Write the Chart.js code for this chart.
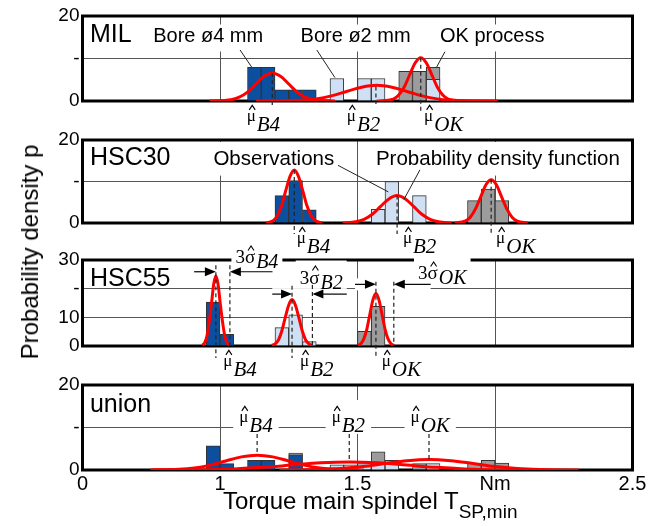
<!DOCTYPE html>
<html>
<head>
<meta charset="utf-8">
<title>Torque main spindel - probability density</title>
<script src="https://cdn.jsdelivr.net/npm/chart.js@4.4.1/dist/chart.umd.min.js"></script>
<style>
    body { margin: 0; width: 662px; height: 526px; background: #fff; position: relative; overflow: hidden;
           font-family: "Liberation Sans", Arial, sans-serif; color: #000; }
    canvas { position: absolute; left: 0; }
    #yTitle { position: absolute; left: 30px; top: 252px; font-size: 24px; white-space: nowrap;
              transform: translate(-50%, -50%) rotate(-90deg); }
    #xTitle { position: absolute; left: 223px; top: 489px; font-size: 24px; line-height: 24px; white-space: nowrap; }
    #xTitle span { font-size: 19px; position: relative; top: 9px; }
</style>
</head>
<body>
<canvas id="milChart"></canvas>
<canvas id="hsc30Chart"></canvas>
<canvas id="hsc55Chart"></canvas>
<canvas id="unionChart"></canvas>
<div id="yTitle">Probability density p</div>
<div id="xTitle">Torque main spindel T<span>SP,min</span></div>
<script>
// x axis is broken: the left edge (0.5 Nm) carries the label 0
const xTickValues = [0.5, 1, 1.5, 2, 2.5];
const xTickLabels = ['0', '1', '1.5', 'Nm', '2.5'];

const yTicks20 = [0, 10, 20];
const yLabels20 = ['0', '-', '20'];
const yTicks30 = [0, 10, 20, 30];
const yLabels30 = ['0', '10', '-', '30'];

// histogram bin centres (Nm) and densities
const milB4Bins = [1.125, 1.175, 1.225, 1.275, 1.325];
const milB4Dens = [7.9, 7.9, 2.6, 2.6, 2.6];
const milB2Bins = [1.425, 1.525, 1.575, 1.775];
const milB2Dens = [5.3, 5.3, 5.3, 5.1];
const milOkBins = [1.675, 1.725, 1.775];
const milOkDens = [7.0, 7.0, 7.9];

const hsc30B4Bins = [1.225, 1.275, 1.325];
const hsc30B4Dens = [6.6, 10.2, 3.2];
const hsc30B2Bins = [1.575, 1.625, 1.725];
const hsc30B2Dens = [3.3, 10.0, 6.6];
const hsc30OkBins = [1.925, 1.975, 2.025];
const hsc30OkDens = [5.4, 8.2, 5.4];

const hsc55B4Bins = [0.975, 1.025];
const hsc55B4Dens = [15.3, 4.1];
const hsc55B2Bins = [1.225, 1.275, 1.325];
const hsc55B2Dens = [6.4, 10.9, 1.5];
const hsc55OkBins = [1.525, 1.575];
const hsc55OkDens = [5.1, 13.8];

const unionB4Bins = [0.975, 1.025, 1.125, 1.175, 1.275];
const unionB4Dens = [5.7, 1.5, 2.3, 2.3, 3.6];
const unionB2Bins = [1.275, 1.425, 1.475, 1.525, 1.575, 1.625, 1.775];
const unionB2Dens = [4.0, 1.2, 1.2, 1.5, 1.5, 2.3, 1.5];
const unionOkBins = [1.575, 1.725, 1.925, 1.975, 2.025];
const unionOkDens = [4.3, 1.5, 1.6, 2.3, 1.6];

// probability density functions [Nm, p]
const milB4Pdf = [[0.962, 0], [1.04, 0.3], [1.07, 0.9], [1.10, 2.1], [1.13, 4.0], [1.16, 5.8], [1.19, 6.6],
                  [1.22, 5.8], [1.25, 4.0], [1.28, 2.1], [1.31, 0.9], [1.34, 0.3], [1.418, 0]];
const milB2Pdf = [[1.13, 0], [1.295, 0.16], [1.35, 0.5], [1.405, 1.2], [1.46, 2.25], [1.515, 3.25], [1.57, 3.7],
                  [1.625, 3.25], [1.68, 2.25], [1.735, 1.2], [1.79, 0.5], [1.845, 0.16], [2.01, 0]];
const milOkPdf = [[1.57, 0], [1.63, 0.45], [1.65, 1.4], [1.67, 3.3], [1.69, 6.2], [1.71, 9.0], [1.73, 10.2],
                  [1.75, 9.0], [1.77, 6.2], [1.79, 3.3], [1.81, 1.4], [1.83, 0.45], [1.89, 0]];

const hsc30B4Pdf = [[1.168, 0], [1.193, 0.56], [1.208, 1.7], [1.224, 4.2], [1.239, 7.8], [1.255, 11.3], [1.27, 12.8],
                    [1.285, 11.3], [1.301, 7.8], [1.316, 4.2], [1.332, 1.7], [1.347, 0.56], [1.372, 0]];
const hsc30B2Pdf = [[1.446, 0], [1.494, 0.3], [1.524, 0.9], [1.554, 2.1], [1.584, 4.0], [1.614, 5.8], [1.644, 6.6],
                    [1.674, 5.8], [1.704, 4.0], [1.734, 2.1], [1.764, 0.9], [1.794, 0.3], [1.842, 0]];
const hsc30OkPdf = [[1.853, 0], [1.891, 0.46], [1.91, 1.4], [1.929, 3.4], [1.948, 6.3], [1.967, 9.2], [1.986, 10.4],
                    [2.005, 9.2], [2.024, 6.3], [2.043, 3.4], [2.062, 1.4], [2.081, 0.46], [2.119, 0]];

const hsc55B4Pdf = [[0.936, 0.3], [0.944, 1.1], [0.952, 3.3], [0.96, 7.9], [0.969, 14.8], [0.977, 21.5], [0.985, 24.4],
                    [0.993, 21.5], [1.001, 14.8], [1.01, 7.9], [1.018, 3.3], [1.026, 1.1], [1.034, 0.3]];
const hsc55B2Pdf = [[1.188, 0.2], [1.2, 0.7], [1.213, 2.2], [1.225, 5.3], [1.237, 9.8], [1.25, 14.3], [1.262, 16.2],
                    [1.274, 14.3], [1.287, 9.8], [1.299, 5.3], [1.311, 2.2], [1.324, 0.7], [1.336, 0.2]];
const hsc55OkPdf = [[1.502, 0.2], [1.512, 0.8], [1.523, 2.5], [1.534, 5.9], [1.545, 11.1], [1.556, 16.1], [1.567, 18.3],
                    [1.578, 16.1], [1.589, 11.1], [1.6, 5.9], [1.611, 2.5], [1.622, 0.8], [1.632, 0.2]];

const unionB4Pdf = [[0.747, 0], [0.85, 0.15], [0.907, 0.47], [0.964, 1.14], [1.021, 2.12], [1.078, 3.09], [1.135, 3.5],
                    [1.192, 3.09], [1.249, 2.12], [1.306, 1.14], [1.363, 0.47], [1.42, 0.15], [1.523, 0]];
const unionB2Pdf = [[0.756, 0], [0.945, 0.08], [1.05, 0.26], [1.155, 0.62], [1.26, 1.15], [1.365, 1.68], [1.47, 1.9],
                    [1.575, 1.68], [1.68, 1.15], [1.785, 0.62], [1.89, 0.26], [1.995, 0.08], [2.184, 0]];
const unionOkPdf = [[1.216, 0], [1.36, 0.11], [1.44, 0.34], [1.52, 0.81], [1.6, 1.52], [1.68, 2.2], [1.76, 2.5],
                    [1.84, 2.2], [1.92, 1.52], [2.0, 0.81], [2.08, 0.34], [2.16, 0.11], [2.304, 0]];

const colB4 = '#0b4f9e', colB2 = '#cfe0f5', colOk = '#9c9c9c', colPdf = '#ff0000';
const SANS = '"Liberation Sans", Arial, sans-serif';
const SERIF = '"Liberation Serif", "Times New Roman", serif';

Chart.defaults.font.family = SANS;
Chart.defaults.color = '#000';

function barSet(bins, dens, color) {
    return {
        type: 'bar',
        data: bins.map((x, i) => ({ x: x, y: dens[i] })),
        backgroundColor: color,
        borderColor: '#333',
        borderWidth: 1,
        grouped: false,
        barPercentage: 1,
        categoryPercentage: 1
    };
}

function pdfSet(points) {
    return {
        type: 'line',
        data: points.map(p => ({ x: p[0], y: p[1] })),
        borderColor: colPdf,
        borderWidth: 3,
        pointRadius: 0,
        fill: false,
        cubicInterpolationMode: 'monotone'
    };
}

// symbol with a hat and an italic subscript, e.g. mu-hat B4 or 3 sigma-hat OK
function hatLabel(ctx, lead, sym, sub, x, base, size, subSize, subDrop, draw) {
    ctx.font = size + 'px ' + SERIF;
    let cx = x;
    if (lead) {
        if (draw) ctx.fillText(lead, cx, base);
        cx += ctx.measureText(lead).width;
    }
    const w = ctx.measureText(sym).width;
    if (draw) {
        ctx.fillText(sym, cx, base);
        // small caret over the symbol
        const hx = cx + w / 2 + 1, hy = base - size * 0.92;
        ctx.save();
        ctx.lineWidth = 1.1;
        ctx.strokeStyle = '#000';
        ctx.setLineDash([]);
        ctx.beginPath();
        ctx.moveTo(hx - 3, hy + 4.5);
        ctx.lineTo(hx, hy);
        ctx.lineTo(hx + 3, hy + 4.5);
        ctx.stroke();
        ctx.restore();
    }
    cx += w + 1;
    ctx.font = 'italic ' + subSize + 'px ' + SERIF;
    if (draw) ctx.fillText(sub, cx, base + subDrop);
    return cx + ctx.measureText(sub).width - x;
}

function arrow(ctx, x0, x1, y) {
    const dir = x1 > x0 ? 1 : -1;
    ctx.beginPath();
    ctx.moveTo(x0, y);
    ctx.lineTo(x1 - dir * 9, y);
    ctx.stroke();
    ctx.beginPath();
    ctx.moveTo(x1, y);
    ctx.lineTo(x1 - dir * 11, y - 4.5);
    ctx.lineTo(x1 - dir * 11, y + 4.5);
    ctx.closePath();
    ctx.fill();
}

// frame, white patches, labels, leader lines, mean lines and 3-sigma arrows
function notesPlugin(spec) {
    return {
        id: 'notes',
        beforeDatasetsDraw(chart) {
            const ctx = chart.ctx, a = chart.chartArea;
            const X = v => chart.scales.x.getPixelForValue(v);
            const Y = v => chart.scales.y.getPixelForValue(v);
            ctx.save();
            ctx.lineWidth = 3;
            ctx.strokeStyle = '#000';
            ctx.strokeRect(a.left, a.top, a.right - a.left, a.bottom - a.top);

            ctx.fillStyle = '#fff';
            (spec.texts || []).forEach(t => {
                if (!t.box) return;
                ctx.font = t.size + 'px ' + SANS;
                const x = X(t.x), b = Y(t.y);
                const w = ctx.measureText(t.text).width;
                const top = t.box === 'top' ? a.top + 2 : b - t.size * 0.85;
                ctx.fillRect(x - 3, top, w + 6, b + t.size * 0.5 - top);
            });
            (spec.muLabels || []).forEach(m => {
                if (m.y === undefined) return;
                const x = X(m.x), b = Y(m.y);
                const w = hatLabel(ctx, '', 'μ', m.sub, x, b, 17, 21, 10, false);
                ctx.fillStyle = '#fff';
                ctx.fillRect(x - 6, b - 22, w + 12, 34);
            });
            (spec.sigmaLabels || []).forEach(s => {
                const x = X(s.x), b = Y(s.y);
                const w = hatLabel(ctx, '3', 'σ', s.sub, x, b, 19, 20, 5, false);
                ctx.fillStyle = '#fff';
                ctx.fillRect(x - 4, b - 23, w + 8, 26);
            });
            (spec.arrows || []).forEach(r => {
                if (!r.band) return;
                const y = Y(r.y);
                ctx.fillRect(X(r.l), y - 6, X(r.r) - X(r.l), 12);
            });
            ctx.restore();
        },
        afterDatasetsDraw(chart) {
            const ctx = chart.ctx, a = chart.chartArea;
            const X = v => chart.scales.x.getPixelForValue(v);
            const Y = v => chart.scales.y.getPixelForValue(v);
            ctx.save();
            ctx.fillStyle = '#000';
            ctx.strokeStyle = '#222';
            ctx.textAlign = 'left';
            ctx.textBaseline = 'alphabetic';

            (spec.texts || []).forEach(t => {
                ctx.font = t.size + 'px ' + SANS;
                ctx.fillText(t.text, X(t.x), Y(t.y));
            });

            ctx.lineWidth = 1;
            (spec.leaders || []).forEach(l => {
                ctx.beginPath();
                ctx.moveTo(X(l[0]), Y(l[1]));
                ctx.lineTo(X(l[2]), Y(l[3]));
                ctx.stroke();
            });

            ctx.lineWidth = 1.2;
            ctx.setLineDash([4, 3]);
            (spec.dashes || []).forEach(d => {
                const y1 = d.below !== undefined ? a.bottom + d.below : Y(d.to);
                ctx.beginPath();
                ctx.moveTo(X(d.x), Y(d.from));
                ctx.lineTo(X(d.x), y1);
                ctx.stroke();
            });
            ctx.setLineDash([]);

            ctx.strokeStyle = '#000';
            (spec.arrows || []).forEach(r => {
                const y = Y(r.y);
                arrow(ctx, X(r.l), X(r.m), y);
                arrow(ctx, X(r.r), X(r.s), y);
            });

            (spec.muLabels || []).forEach(m => {
                const b = m.y === undefined ? a.bottom + 20 : Y(m.y);
                hatLabel(ctx, '', 'μ', m.sub, X(m.x), b, 17, 21, 10, true);
            });
            (spec.sigmaLabels || []).forEach(s => {
                hatLabel(ctx, '3', 'σ', s.sub, X(s.x), Y(s.y), 19, 20, 5, true);
            });
            ctx.restore();
        }
    };
}

function createPanel(id, top, height, yMax, yTicks, yLabels, vGrid, datasets, spec, showX) {
    const padTop = 16;
    const xHeight = showX ? 24 : 0;
    const padBottom = showX ? 6 : 44;
    const canvas = document.getElementById(id);
    canvas.width = 662;
    canvas.height = padTop + height + xHeight + padBottom;
    canvas.style.top = (top - padTop) + 'px';

    return new Chart(canvas.getContext('2d'), {
        type: 'line',
        data: { datasets: datasets },
        options: {
            responsive: false,
            animation: false,
            devicePixelRatio: 1,
            layout: { padding: { top: padTop, left: 0, right: 29.5, bottom: padBottom } },
            plugins: {
                legend: { display: false },
                tooltip: { enabled: false }
            },
            scales: {
                x: {
                    type: 'linear',
                    min: 0.5,
                    max: 2.5,
                    offset: false,
                    afterBuildTicks: s => { s.ticks = xTickValues.map(v => ({ value: v })); },
                    afterFit: s => { s.height = xHeight; },
                    ticks: {
                        display: showX,
                        autoSkip: false,
                        maxRotation: 0,
                        padding: 2,
                        font: { size: 20 },
                        callback: (v, i) => xTickLabels[i]
                    },
                    grid: {
                        offset: false,
                        drawTicks: false,
                        lineWidth: 1,
                        color: c => (c.tick && vGrid.includes(c.tick.value)) ? '#555' : 'rgba(0,0,0,0)'
                    },
                    border: { display: false }
                },
                y: {
                    min: 0,
                    max: yMax,
                    afterBuildTicks: s => { s.ticks = yTicks.map(v => ({ value: v })); },
                    afterFit: s => { s.width = 82.5; },
                    ticks: {
                        padding: 3,
                        font: { size: 19 },
                        callback: (v, i) => yLabels[i]
                    },
                    grid: { drawTicks: false, color: '#555', lineWidth: 1 },
                    border: { display: false }
                }
            }
        },
        plugins: [notesPlugin(spec)]
    });
}

createPanel('milChart', 16, 85, 20, yTicks20, yLabels20, [1, 1.5, 2], [
    pdfSet(milB4Pdf), pdfSet(milB2Pdf), pdfSet(milOkPdf),
    barSet(milB4Bins, milB4Dens, colB4), barSet(milB2Bins, milB2Dens, colB2), barSet(milOkBins, milOkDens, colOk)
], {
    texts: [
        { text: 'MIL', x: 0.527, y: 14.0, size: 25 },
        { text: 'Bore ø4 mm', x: 0.757, y: 14.0, size: 20, box: true },
        { text: 'Bore ø2 mm', x: 1.293, y: 14.0, size: 20, box: true },
        { text: 'OK process', x: 1.80, y: 14.0, size: 20, box: true }
    ],
    leaders: [[1.073, 12.0, 1.115, 8.0], [1.352, 12.0, 1.418, 5.5], [1.818, 11.6, 1.788, 8.0]],
    dashes: [{ x: 1.19, from: 6.6, below: 5 }, { x: 1.567, from: 3.4, below: 3 }, { x: 1.73, from: 10.2, below: 12 }],
    muLabels: [{ sub: 'B4', x: 1.097 }, { sub: 'B2', x: 1.461 }, { sub: 'OK', x: 1.742 }]
}, false);

createPanel('hsc30Chart', 140, 83, 20, yTicks20, yLabels20, [1, 1.5, 2], [
    pdfSet(hsc30B4Pdf), pdfSet(hsc30B2Pdf), pdfSet(hsc30OkPdf),
    barSet(hsc30B4Bins, hsc30B4Dens, colB4), barSet(hsc30B2Bins, hsc30B2Dens, colB2), barSet(hsc30OkBins, hsc30OkDens, colOk)
], {
    texts: [
        { text: 'HSC30', x: 0.527, y: 13.9, size: 25 },
        { text: 'Observations', x: 0.976, y: 13.9, size: 20.5, box: 'top' },
        { text: 'Probability density function', x: 1.567, y: 13.9, size: 20.5, box: 'top' }
    ],
    leaders: [[1.429, 13.9, 1.612, 7.5], [1.727, 12.8, 1.669, 5.7]],
    dashes: [{ x: 1.27, from: 12.8, below: 11 }, { x: 1.644, from: 6.6, below: 11 }, { x: 1.986, from: 10.4, below: 11 }],
    muLabels: [{ sub: 'B4', x: 1.279 }, { sub: 'B2', x: 1.665 }, { sub: 'OK', x: 2.004 }]
}, false);

createPanel('hsc55Chart', 260, 86, 30, yTicks30, yLabels30, [1.5, 2], [
    pdfSet(hsc55B4Pdf), pdfSet(hsc55B2Pdf), pdfSet(hsc55OkPdf),
    barSet(hsc55B4Bins, hsc55B4Dens, colB4), barSet(hsc55B2Bins, hsc55B2Dens, colB2), barSet(hsc55OkBins, hsc55OkDens, colOk)
], {
    texts: [{ text: 'HSC55', x: 0.527, y: 21.1, size: 25 }],
    dashes: [
        { x: 0.985, from: 28.2, below: 12 }, { x: 1.262, from: 21.0, below: 12 }, { x: 1.567, from: 22.4, below: 12 },
        { x: 1.036, from: 28.2, to: 0 }, { x: 1.336, from: 21.3, to: 0 }, { x: 1.632, from: 22.4, to: 0 }
    ],
    arrows: [
        { y: 25.9, l: 0.906, m: 0.985, s: 1.036, r: 1.191, band: false },
        { y: 18.1, l: 1.19, m: 1.262, s: 1.336, r: 1.461, band: true },
        { y: 21.5, l: 1.491, m: 1.567, s: 1.632, r: 1.766, band: true }
    ],
    sigmaLabels: [{ sub: 'B4', x: 1.056, y: 28.8 }, { sub: 'B2', x: 1.29, y: 21.8 }, { sub: 'OK', x: 1.72, y: 23.2 }],
    muLabels: [{ sub: 'B4', x: 1.012 }, { sub: 'B2', x: 1.291 }, { sub: 'OK', x: 1.588 }]
}, false);

createPanel('unionChart', 385, 85, 20, yTicks20, yLabels20, [1, 1.5, 2], [
    pdfSet(unionB4Pdf), pdfSet(unionB2Pdf), pdfSet(unionOkPdf),
    barSet(unionB4Bins, unionB4Dens, colB4), barSet(unionB2Bins, unionB2Dens, colB2), barSet(unionOkBins, unionOkDens, colOk)
], {
    texts: [{ text: 'union', x: 0.527, y: 13.7, size: 25 }],
    muLabels: [{ sub: 'B4', x: 1.07, y: 11.3 }, { sub: 'B2', x: 1.406, y: 11.3 }, { sub: 'OK', x: 1.693, y: 11.3 }],
    dashes: [{ x: 1.135, from: 8.5, to: 3.5 }, { x: 1.47, from: 8.5, to: 1.9 }, { x: 1.76, from: 8.5, to: 2.5 }]
}, true);
</script>
</body>
</html>
